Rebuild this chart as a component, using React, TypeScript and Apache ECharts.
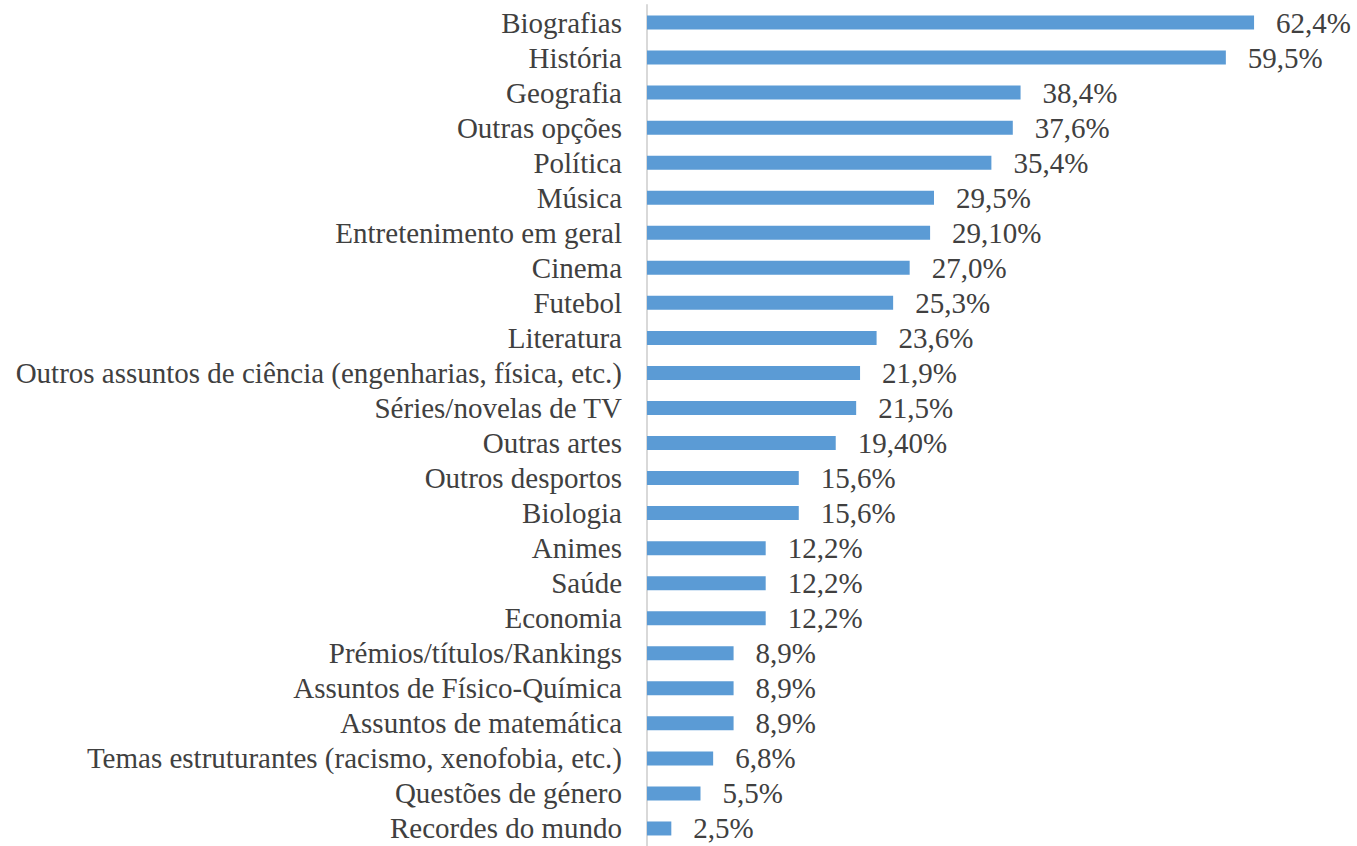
import React, { useEffect, useRef } from "react";
import * as echarts from "echarts";

const categories = [
  "Biografias",
  "História",
  "Geografia",
  "Outras opções",
  "Política",
  "Música",
  "Entretenimento em geral",
  "Cinema",
  "Futebol",
  "Literatura",
  "Outros assuntos de ciência (engenharias, física, etc.)",
  "Séries/novelas de TV",
  "Outras artes",
  "Outros desportos",
  "Biologia",
  "Animes",
  "Saúde",
  "Economia",
  "Prémios/títulos/Rankings",
  "Assuntos de Físico-Química",
  "Assuntos de matemática",
  "Temas estruturantes (racismo, xenofobia, etc.)",
  "Questões de género",
  "Recordes do mundo",
];

const values = [
  62.4, 59.5, 38.4, 37.6, 35.4, 29.5, 29.1, 27.0, 25.3, 23.6, 21.9, 21.5, 19.4,
  15.6, 15.6, 12.2, 12.2, 12.2, 8.9, 8.9, 8.9, 6.8, 5.5, 2.5,
];

const valueLabels = [
  "62,4%", "59,5%", "38,4%", "37,6%", "35,4%", "29,5%", "29,10%", "27,0%",
  "25,3%", "23,6%", "21,9%", "21,5%", "19,40%", "15,6%", "15,6%", "12,2%",
  "12,2%", "12,2%", "8,9%", "8,9%", "8,9%", "6,8%", "5,5%", "2,5%",
];

export default function App() {
  const ref = useRef<HTMLDivElement>(null);
  useEffect(() => {
    if (!ref.current) return;
    const chart = echarts.init(ref.current, null, { renderer: "svg" });
    const font = "Liberation Serif";
    chart.setOption({
      animation: false,
      backgroundColor: "#ffffff",
      grid: { left: 647, top: 5, width: 681, height: 843, containLabel: false },
      xAxis: {
        type: "value",
        min: 0,
        max: 70,
        show: false,
      },
      yAxis: {
        type: "category",
        inverse: true,
        data: categories,
        axisLine: { show: true, lineStyle: { color: "#d9d9d9", width: 2 } },
        axisTick: { show: false },
        axisLabel: {
          interval: 0,
          hideOverlap: false,
          margin: 25,
          fontFamily: font,
          fontSize: 29,
          color: "#404040",
        },
      },
      series: [
        {
          type: "bar",
          data: values,
          barWidth: 14,
          itemStyle: { color: "#5b9bd5" },
          label: {
            show: true,
            position: "right",
            distance: 22,
            fontFamily: font,
            fontSize: 29,
            color: "#404040",
            formatter: (p: any) => valueLabels[p.dataIndex],
          },
        },
      ],
    });
    return () => chart.dispose();
  }, []);
  return (
    <div
      ref={ref}
      style={{ position: "fixed", left: 0, top: 0, width: 1357, height: 846 }}
    />
  );
}
